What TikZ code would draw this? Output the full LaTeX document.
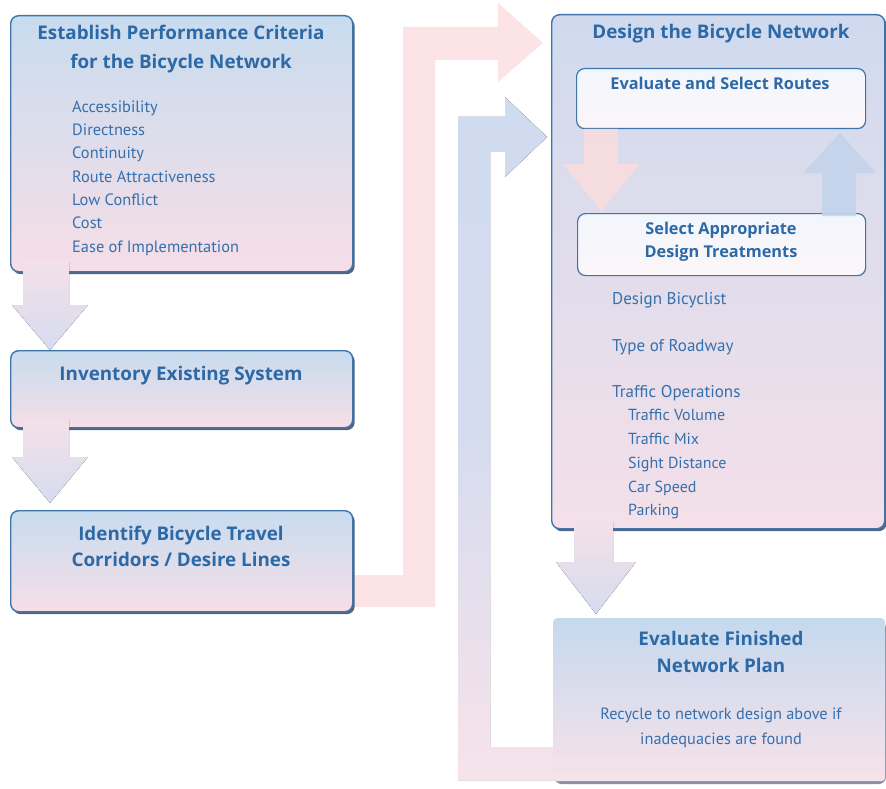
\documentclass[tikz,border=0pt]{standalone}
\usepackage{fontspec}
\setmainfont{PT Sans}
\newfontfamily\headfont{Open Sans}
\definecolor{boxline}{HTML}{3E75AC}
\definecolor{shadowc}{HTML}{55657C}
\definecolor{titlec}{HTML}{2C69A6}
\definecolor{textc}{HTML}{3570AE}
\definecolor{boxtop}{HTML}{C8DCEF}
\definecolor{boxbot}{HTML}{F6DEE7}
\definecolor{dtop}{HTML}{CFDAEE}
\definecolor{dbot}{HTML}{F4E0E9}
\definecolor{intop}{HTML}{F2F6FC}
\definecolor{inbot}{HTML}{FCF6F9}
\definecolor{eftop}{HTML}{C5D9EE}
\definecolor{efbot}{HTML}{F7E2EA}
\definecolor{pinkarr}{HTML}{FBE3E6}
\definecolor{bluearr}{HTML}{CFDBEF}
\definecolor{lavarr}{HTML}{D6DCEF}
\definecolor{pinkshaft}{HTML}{F3E0E8}
\definecolor{pinkin}{HTML}{F8DCDE}
\definecolor{bluein}{HTML}{C3D4EB}
\begin{document}
\begin{tikzpicture}[x=1pt,y=-1pt,
  shadowbox/.style={fill=shadowc, rounded corners=8pt, inner sep=0pt, anchor=north west},
  bigbox/.style={draw=boxline, line width=1.4pt, rounded corners=8pt, top color=boxtop, bottom color=boxbot, inner sep=0pt, anchor=north west},
  designbox/.style={bigbox, top color=dtop, bottom color=dbot},
  innerbox/.style={draw=boxline, line width=1.2pt, rounded corners=8pt, top color=intop, bottom color=inbot, inner sep=0pt, anchor=north west},
  plainbox/.style={rounded corners=4pt, top color=eftop, bottom color=efbot, inner sep=0pt, anchor=north west},
  title/.style={font=\headfont\fontsize{18.8}{28}\selectfont\bfseries, text=titlec, align=center, inner sep=0pt},
  subtitle/.style={font=\headfont\fontsize{16.3}{23}\selectfont\bfseries, text=titlec, align=center, inner sep=0pt},
  item/.style={font=\fontsize{16.4}{23.3}\selectfont, text=textc, align=left, inner sep=0pt, anchor=west},
]
\useasboundingbox[fill=white] (0,0) rectangle (886,789);

% ---- long connector arrows (behind) ----
\fill[pinkarr] (345,575) -- (403,575) -- (403,27) -- (498,27) -- (498,3) -- (543,43)
  -- (498,82) -- (498,60) -- (435,60) -- (435,607) -- (345,607) -- cycle;
\fill[top color=bluearr, bottom color=efbot, middle color=lavarr]
  (560,780) -- (458,780) -- (458,117) -- (505,117) -- (505,97) -- (547,137)
  -- (505,177) -- (505,152) -- (490,152) -- (490,747) -- (560,747) -- cycle;

% ---- left column boxes ----
\node[shadowbox, minimum width=342pt, minimum height=256pt] at (12.5,18) {};
\node[bigbox, minimum width=342pt, minimum height=256pt] (b1) at (10,15) {};
\node[shadowbox, minimum width=342pt, minimum height=77pt] at (12.5,353) {};
\node[bigbox, minimum width=342pt, minimum height=77pt] (b2) at (10,350) {};
\node[shadowbox, minimum width=342pt, minimum height=101pt] at (12.5,513) {};
\node[bigbox, minimum width=342pt, minimum height=101pt] (b3) at (10,510) {};

% ---- right column boxes ----
\node[shadowbox, minimum width=333pt, minimum height=514pt] at (553.5,17) {};
\node[designbox, minimum width=333pt, minimum height=514pt] (dn) at (551,14) {};
\node[innerbox, minimum width=289pt, minimum height=60pt] (es) at (576,68) {};
\node[innerbox, minimum width=288pt, minimum height=62pt] (sa) at (577,213) {};
\node[shadowbox, minimum width=332pt, minimum height=163pt, fill=shadowc!70] at (554,621) {};
\node[plainbox, minimum width=332pt, minimum height=163pt] (ef) at (553,618) {};

% ---- short block arrows (on top) ----
\fill[top color=pinkshaft, bottom color=lavarr]
  (23,262) -- (69,262) -- (69,305) -- (88,305) -- (50,350) -- (12,305) -- (23,305) -- cycle;
\fill[top color=pinkshaft, bottom color=lavarr]
  (23,420) -- (69,420) -- (69,457) -- (88,457) -- (50,503) -- (12,457) -- (23,457) -- cycle;
\fill[top color=pinkshaft, bottom color=lavarr]
  (574,522) -- (613,522) -- (613,562) -- (636,562) -- (596,614) -- (556,562) -- (574,562) -- cycle;
\fill[pinkin, opacity=0.9]
  (584,129) -- (618,129) -- (618,164) -- (640,164) -- (601,211) -- (563,164) -- (584,164) -- cycle;
\fill[bluein, opacity=0.9]
  (822,216) -- (856,216) -- (856,173) -- (876,173) -- (840,133) -- (803,173) -- (822,173) -- cycle;

% ---- texts ----
\node[title, font=\headfont\fontsize{18.8}{29}\selectfont\bfseries] (t1) at (181,49) {Establish Performance Criteria\\for the Bicycle Network};
\node[item] (l1) at (72,178) {Accessibility\\Directness\\Continuity\\Route Attractiveness\\Low Conflict\\Cost\\Ease of Implementation};
\node[title] (t2) at (181,376) {Inventory Existing System};
\node[title, font=\headfont\fontsize{18.8}{26}\selectfont\bfseries] (t3) at (181,546) {Identify Bicycle Travel\\Corridors / Desire Lines};

\node[title] (t4) at (721,34) {Design the Bicycle Network};
\node[subtitle] (t5) at (720,83) {Evaluate and Select Routes};
\node[subtitle] (t6) at (721,242) {Select Appropriate\\Design Treatments};
\node[item, font=\fontsize{17}{23}\selectfont] (d1) at (612,300) {Design Bicyclist};
\node[item, font=\fontsize{17}{23}\selectfont] (d2) at (612,347) {Type of Roadway};
\node[item, font=\fontsize{17}{23}\selectfont] (d3) at (612,393) {Traffic Operations};
\node[item, font=\fontsize{16}{23.75}\selectfont] (d4) at (628,464.5) {Traffic Volume\\Traffic Mix\\Sight Distance\\Car Speed\\Parking};

\node[title, font=\headfont\fontsize{18.8}{27}\selectfont\bfseries] (t7) at (721,652) {Evaluate Finished\\Network Plan};
\node[item, anchor=center, align=center, font=\fontsize{16.3}{25}\selectfont] (t8) at (721,727.5) {Recycle to network design above if\\inadequacies are found};
\end{tikzpicture}
\end{document}
